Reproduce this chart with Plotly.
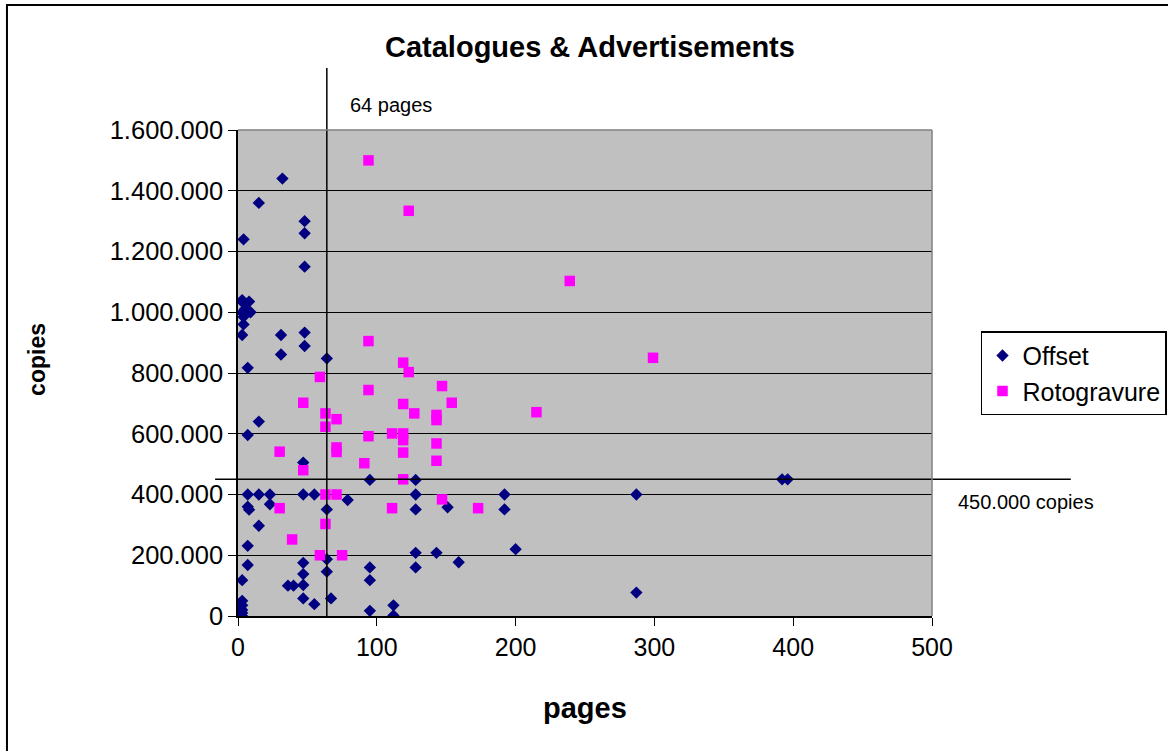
import plotly.graph_objects as go

# Offset jobs: pages vs. print run
offset_pages = [32, 15, 48, 48, 4, 48,
                3, 4, 8, 5, 3, 9, 4, 4, 3,
                31, 48, 48, 31, 64, 7,
                15, 7, 47, 95, 128,
                7, 15, 23, 47, 55, 192, 287, 128,
                79, 7, 8, 23, 64, 128, 151, 192,
                15, 7, 200, 128, 143, 159,
                64, 7, 47, 95, 128, 64, 47,
                3, 95, 36, 40, 47,
                287, 47, 67, 55, 112, 95, 112,
                3, 3, 3, 3, 3, 392, 396]
offset_copies = [1440000, 1360000, 1300000, 1260000, 1240000, 1150000,
                 1040000, 1030000, 1035000, 1010000, 1000000, 1000000, 985000, 960000, 925000,
                 925000, 933000, 889000, 861000, 848000, 817000,
                 640000, 596000, 505000, 448000, 448000,
                 400000, 400000, 400000, 400000, 400000, 400000, 400000, 400000,
                 382000, 360000, 350000, 368000, 351000, 351000, 358000, 351000,
                 297000, 231000, 220000, 208000, 208000, 177000,
                 187000, 168000, 175000, 160000, 160000, 146000, 138000,
                 118000, 118000, 100000, 100000, 102000,
                 77000, 58000, 58000, 39000, 35000, 17000, 2000,
                 50000, 35000, 20000, 10000, 0, 450000, 450000]

# Rotogravure jobs: pages vs. print run
roto_pages = [94, 123, 239, 94, 299, 119, 123, 59,
              147, 94, 47, 154, 119, 215, 63, 127, 143, 143, 71, 63,
              111, 119, 94, 119, 143, 30, 71, 71, 119, 143, 91,
              47, 119, 63, 71, 147, 30, 111, 173, 63, 39, 59, 75]
roto_copies = [1500000, 1334000, 1103000, 905000, 850000, 834000, 803000, 787000,
               757000, 744000, 702000, 702000, 698000, 671000, 667000, 667000, 662000, 645000, 648000, 623000,
               601000, 601000, 592000, 579000, 568000, 541000, 555000, 540000, 538000, 511000, 503000,
               480000, 450000, 400000, 400000, 384000, 355000, 355000, 355000, 303000, 252000, 200000, 200000]

# Reference thresholds
page_limit = 64
copies_limit = 450000

FONT = "Liberation Sans, Arial, sans-serif"

fig = go.Figure()
fig.add_trace(go.Scatter(
    x=offset_pages, y=offset_copies, mode="markers", name="Offset",
    marker=dict(symbol="diamond", size=9.5, color="#000080", line=dict(width=0)),
))
fig.add_trace(go.Scatter(
    x=roto_pages, y=roto_copies, mode="markers", name="Rotogravure",
    marker=dict(symbol="square", size=10.5, color="#FF00FF", line=dict(width=0)),
))

shapes = [
    # threshold lines reaching outside the plot area
    dict(type="line", xref="x", yref="paper", x0=page_limit, x1=page_limit,
         y0=0, y1=1.1276, line=dict(color="black", width=1.5)),
    dict(type="line", xref="paper", yref="y", x0=-0.033, x1=1.2, y0=copies_limit,
         y1=copies_limit, line=dict(color="black", width=1.5)),
    # chart frame
    dict(type="rect", xref="paper", yref="paper", x0=-0.3329, x1=1.6, y0=-0.6, y1=1.2572,
         line=dict(color="black", width=2), layer="below"),
    # gray outline on the top and right of the plot area
    dict(type="line", xref="paper", yref="paper", x0=0, x1=1, y0=1, y1=1,
         line=dict(color="#808080", width=1.5)),
    dict(type="line", xref="paper", yref="paper", x0=1, x1=1, y0=0, y1=1,
         line=dict(color="#808080", width=1.5)),
]

annotations = [
    dict(text="<b>Catalogues & Advertisements</b>", xref="paper", yref="paper", x=0.507,
         y=1.1708, showarrow=False, font=dict(family=FONT, size=29, color="black"),
         xanchor="center", yanchor="middle"),
    dict(text="<b>copies</b>", xref="paper", yref="paper", x=-0.2896, y=0.527, textangle=-90,
         showarrow=False, font=dict(family=FONT, size=23, color="black"),
         xanchor="center", yanchor="middle"),
    dict(text="<b>pages</b>", xref="paper", yref="paper", x=0.5, y=-0.189,
         showarrow=False, font=dict(family=FONT, size=29, color="black"),
         xanchor="center", yanchor="middle"),
    dict(text=f"{page_limit} pages", xref="paper", yref="paper", x=0.2205, y=1.0514,
         showarrow=False, font=dict(family=FONT, size=20, color="black"),
         xanchor="center", yanchor="middle"),
    dict(text="450.000 copies", xref="paper", yref="paper", x=1.1354, y=0.2346,
         showarrow=False, font=dict(family=FONT, size=20, color="black"),
         xanchor="center", yanchor="middle"),
]

fig.update_layout(
    width=1168, height=751,
    margin=dict(l=238, r=236, t=130, b=135, autoexpand=False),
    paper_bgcolor="white",
    plot_bgcolor="#C0C0C0",
    separators=",.",
    font=dict(family=FONT, color="black"),
    shapes=shapes,
    annotations=annotations,
    showlegend=True,
    legend=dict(
        x=1.0706, y=0.586, xanchor="left", yanchor="top",
        bgcolor="white", bordercolor="black", borderwidth=1.5,
        font=dict(family=FONT, size=25, color="black"),
        itemsizing="trace", tracegroupgap=0,
    ),
    xaxis=dict(
        range=[0, 500], dtick=100, tick0=0, showgrid=False, zeroline=False,
        showline=True, linecolor="black", linewidth=1.5, mirror=False,
        ticks="outside", ticklen=8, tickcolor="black",
        tickfont=dict(family=FONT, size=25, color="black"),
    ),
    yaxis=dict(
        range=[0, 1600000], dtick=200000, tick0=0, tickformat=",d",
        showgrid=True, gridcolor="black", gridwidth=1, zeroline=False,
        showline=True, linecolor="black", linewidth=1.5,
        ticks="outside", ticklen=8, tickcolor="black",
        tickfont=dict(family=FONT, size=25.5, color="black"),
    ),
)

fig.write_html("out.html")
